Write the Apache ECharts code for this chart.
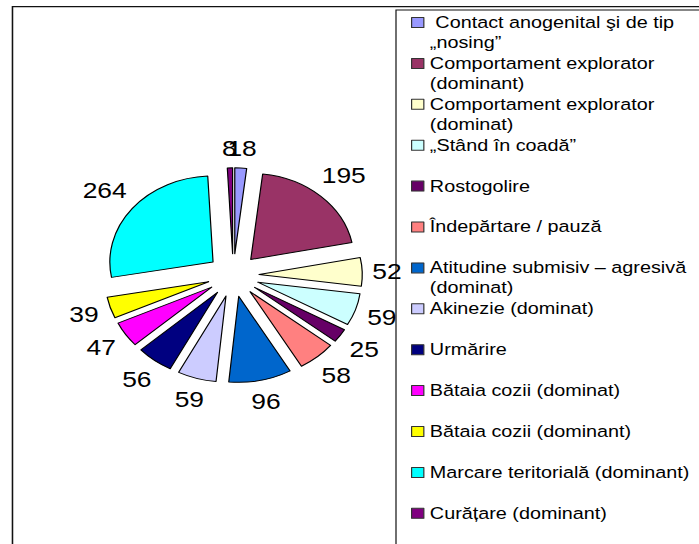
<!DOCTYPE html>
<html>
<head>
<meta charset="utf-8">
<script src="https://cdn.jsdelivr.net/npm/echarts@6/dist/echarts.min.js"></script>
<style>
  html, body { margin: 0; padding: 0; background: #fff; overflow: hidden; }
  #wrap { width: 699px; height: 544px; overflow: hidden; }
  /* the reference picture is stretched horizontally (elliptical pie, wide glyphs) */
  #chart { width: 583px; height: 544px; transform: scaleX(1.2); transform-origin: 0 0; }
</style>
</head>
<body>
<div id="wrap"><div id="chart"></div></div>
<script>
// ---- data ----
const categories = [
  " Contact anogenital şi de tip\n„nosing”",
  "Comportament explorator\n(dominant)",
  "Comportament explorator\n(dominat)",
  "„Stând în coadă”",
  "Rostogolire",
  "Îndepărtare / pauză",
  "Atitudine submisiv – agresivă\n(dominat)",
  "Akinezie (dominat)",
  "Urmărire",
  "Bătaia cozii (dominat)",
  "Bătaia cozii (dominant)",
  "Marcare teritorială (dominant)",
  "Curățare (dominant)"
];
const values = [18, 195, 52, 59, 25, 58, 96, 59, 56, 47, 39, 264, 8];

// ---- styles / layout ----
const sliceColors = ["#9999FF", "#993366", "#FFFFCC", "#CCFFFF", "#660066", "#FF8080",
                     "#0066CC", "#CCCCFF", "#000080", "#FF00FF", "#FFFF00", "#00FFFF", "#800080"];
const FONT = '"Liberation Sans", Arial, sans-serif';
const PIE_CENTER = [194.4, 275.3];
const PIE_RADIUS = 86;
const EXPLODE = 21.5;
const LINE_H = 20;
const LABEL_RING = 122;      // outer radius of the transparent label-carrier ring
const LABEL_CLEAR = 112.5;   // distance at which a label box starts to clear the slice

const chart = echarts.init(document.getElementById('chart'), null, { renderer: 'svg' });

const pieData = categories.map((name, i) => ({ name: name, value: values[i], selected: true }));
const isMultiLine = name => name.indexOf('\n') >= 0;

// push each value label outward so that its box (not its centre) sits just outside the slice
function labelPush(params) {
  const r = params.labelRect;
  const lx = r.x + r.width / 2, ly = r.y + r.height / 2;
  let ux = lx - PIE_CENTER[0], uy = ly - PIE_CENTER[1];
  const n = Math.hypot(ux, uy) || 1;
  ux /= n; uy /= n;
  const current = ((PIE_RADIUS + LABEL_RING) / 2) + EXPLODE;
  const wanted = LABEL_CLEAR + (r.width / 2) * Math.abs(ux) + (r.height / 2) * Math.abs(uy);
  const push = wanted - current;
  return { dx: push * ux, dy: push * uy, hideOverlap: false };
}

const option = {
  animation: false,
  backgroundColor: '#fff',
  color: sliceColors,
  tooltip: { show: false },
  graphic: [
    { type: 'rect', silent: true, z: 0,
      shape: { x: 10.4, y: 6.6, width: 1000, height: 1000 },
      style: { fill: 'none', stroke: '#111', lineWidth: 1.3 } },
    { type: 'rect', silent: true, z: 0,
      shape: { x: 330, y: 10, width: 1000, height: 1000 },
      style: { fill: 'none', stroke: '#111', lineWidth: 1 } }
  ],
  legend: {
    orient: 'vertical',
    left: 342.5,
    top: -7.5,
    height: 800,
    padding: 0,
    itemGap: -19.1,
    itemWidth: 10.2,
    itemHeight: 10,
    icon: 'rect',
    selectedMode: false,
    itemStyle: { borderColor: '#333', borderWidth: 1 },
    // blank first line so that the marker sits beside the first line of a two-line entry
    formatter: name => isMultiLine(name) ? '\n' + name : name,
    textStyle: { fontFamily: FONT, fontSize: 16.5, lineHeight: LINE_H, color: '#000' },
    data: categories.map(name => ({
      name: name,
      textStyle: { padding: isMultiLine(name) ? 0 : [LINE_H, 0, LINE_H, 0] }
    }))
  },
  series: [
    {
      type: 'pie',
      center: PIE_CENTER,
      radius: [0, PIE_RADIUS],
      startAngle: 90,
      clockwise: true,
      selectedMode: 'multiple',
      selectedOffset: EXPLODE,
      avoidLabelOverlap: false,
      itemStyle: { borderColor: '#000', borderWidth: 1 },
      select: { itemStyle: { borderColor: '#000', borderWidth: 1 } },
      emphasis: { disabled: true, scale: false },
      label: { show: false },
      labelLine: { show: false },
      data: pieData
    },
    {
      // label carrier: transparent ring, labels centred on each slice's mid-angle
      type: 'pie',
      silent: true,
      center: PIE_CENTER,
      radius: [PIE_RADIUS, LABEL_RING],
      startAngle: 90,
      clockwise: true,
      selectedMode: 'multiple',
      selectedOffset: EXPLODE,
      avoidLabelOverlap: false,
      labelLayout: labelPush,
      itemStyle: { color: 'rgba(0,0,0,0)', borderWidth: 0 },
      select: { itemStyle: { color: 'rgba(0,0,0,0)', borderWidth: 0 } },
      emphasis: { disabled: true, scale: false },
      label: {
        show: true, position: 'inside', formatter: '{c}', overflow: 'none',
        fontFamily: FONT, fontSize: 22, color: '#000', rotate: 0
      },
      labelLine: { show: false },
      data: pieData.map(d => Object.assign({}, d))
    }
  ]
};

chart.setOption(option);
</script>
</body>
</html>
